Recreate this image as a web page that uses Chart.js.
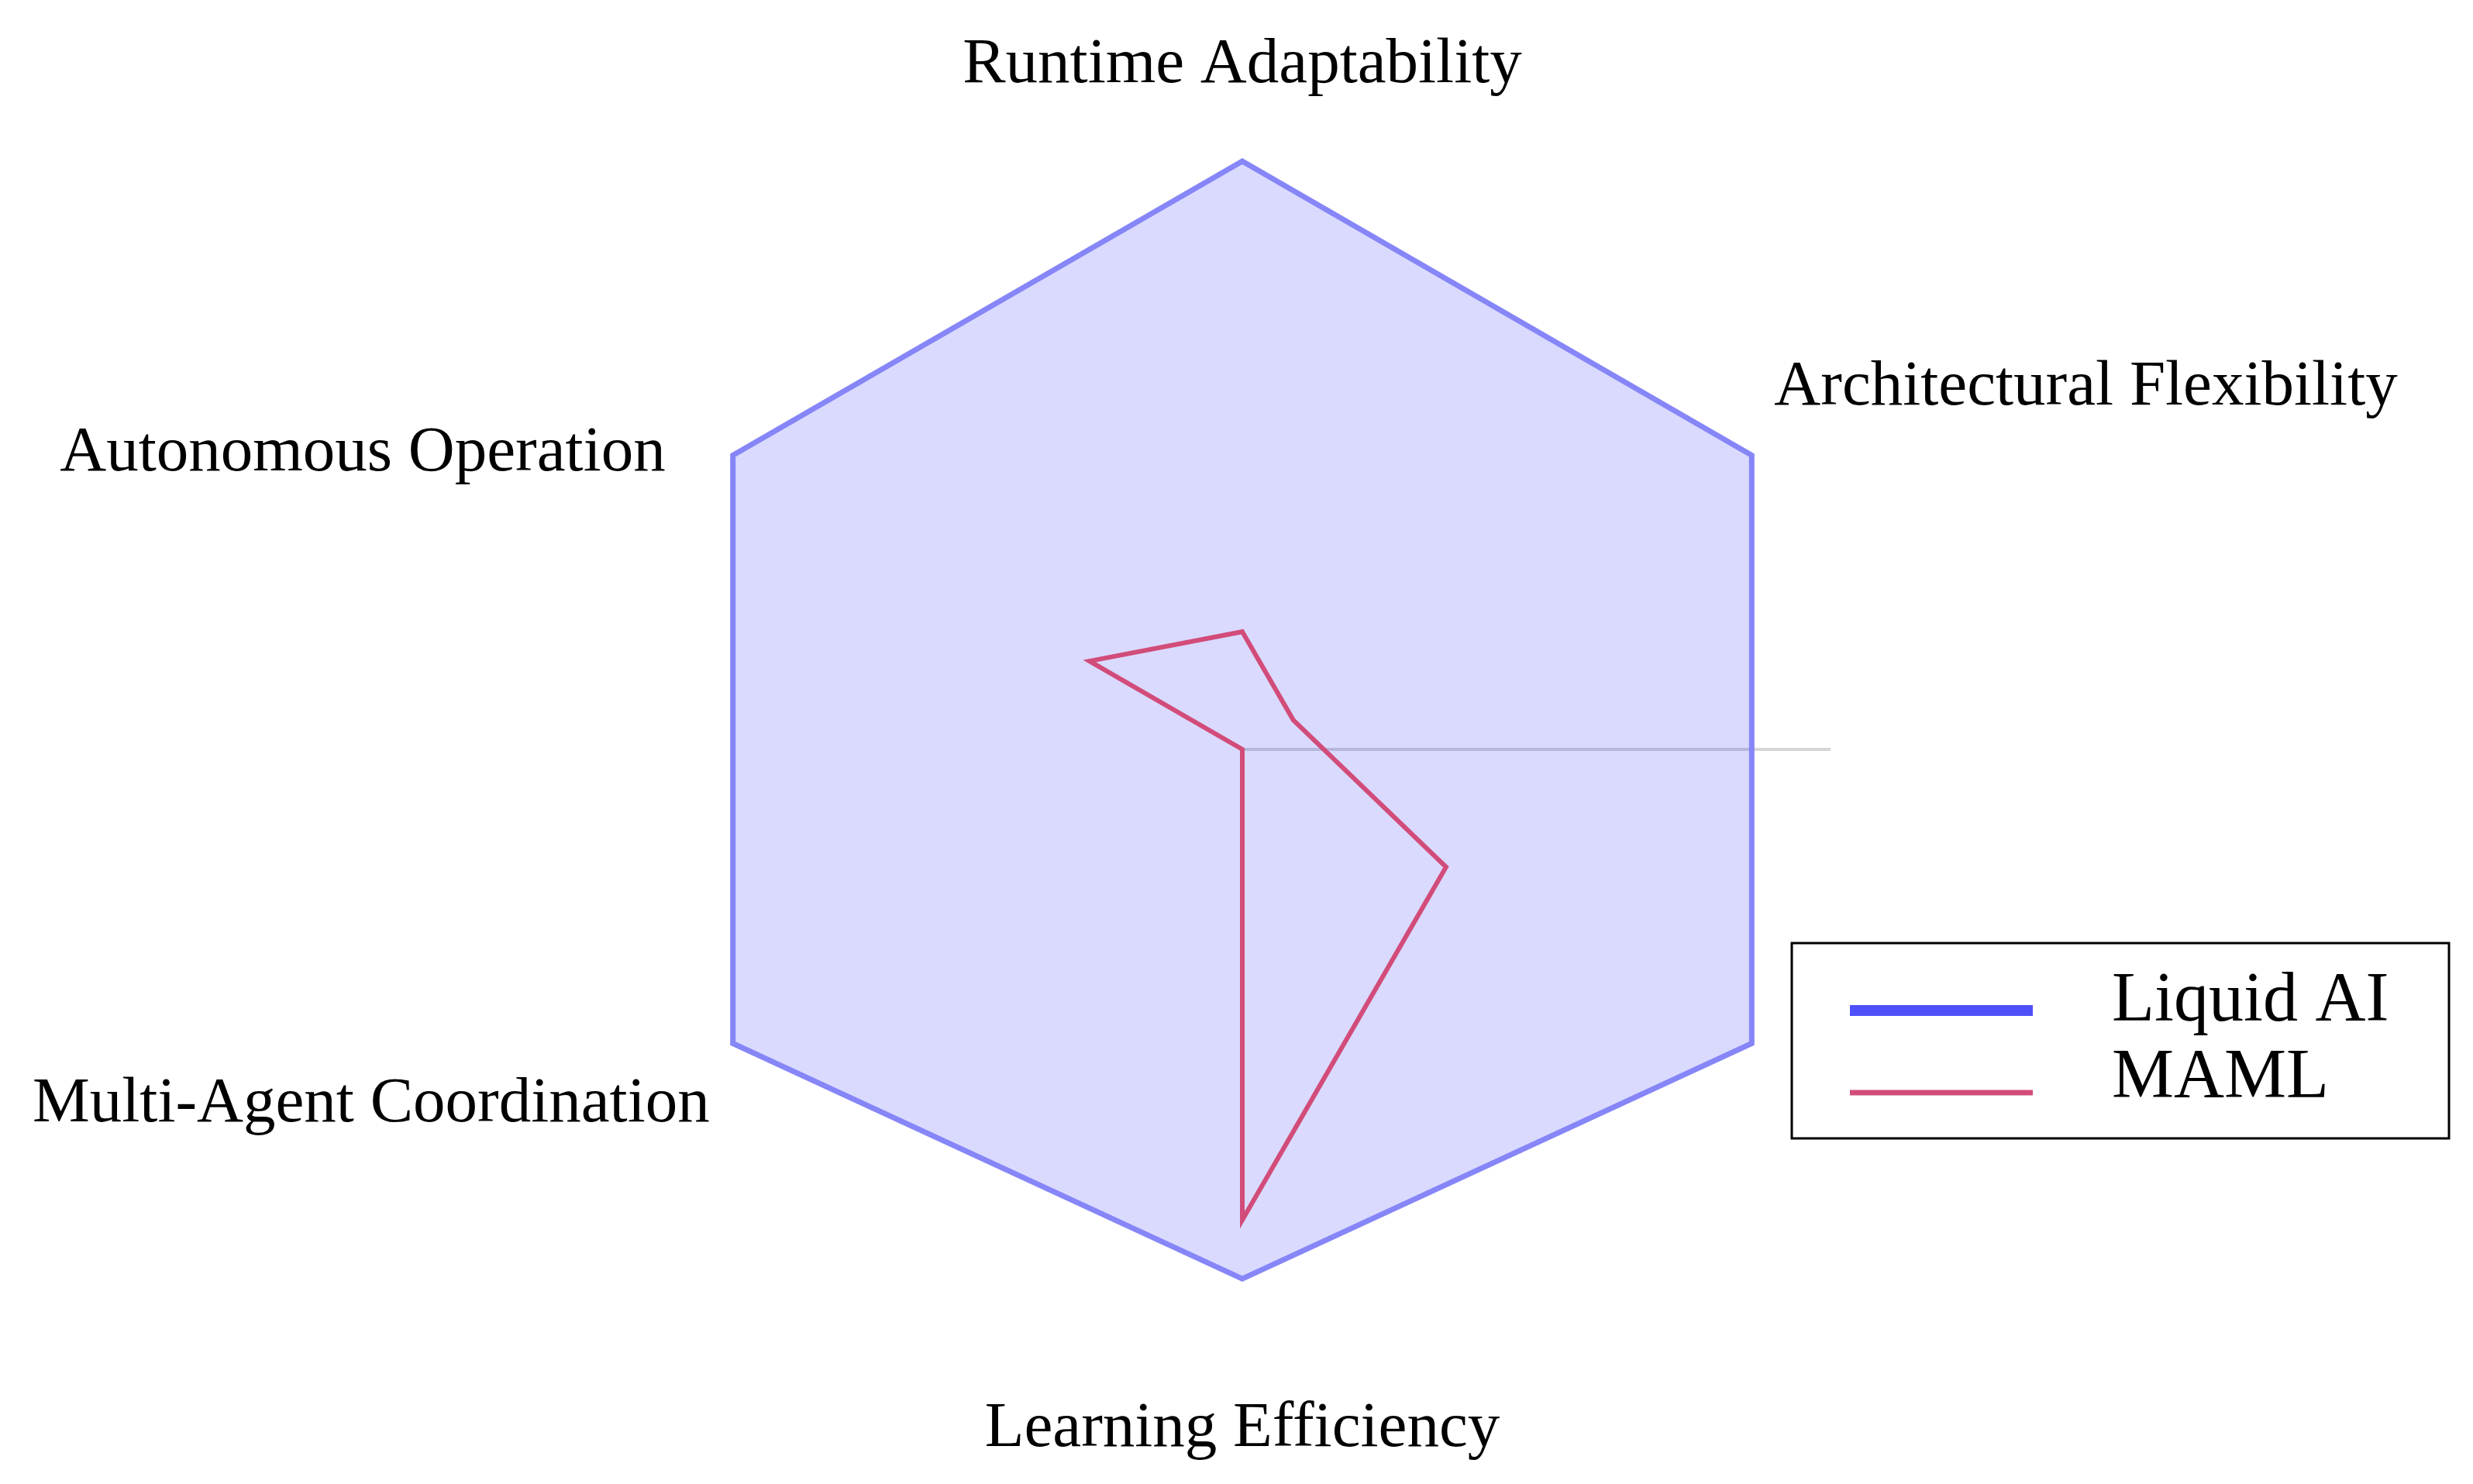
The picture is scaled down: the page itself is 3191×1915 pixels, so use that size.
<!DOCTYPE html>
<html>
<head>
<meta charset="utf-8">
<script src="https://cdn.jsdelivr.net/npm/chart.js@4.4.1/dist/chart.umd.min.js"></script>
<style>
  html, body { margin: 0; padding: 0; background: #fff; }
  canvas { display: block; }
</style>
</head>
<body>
<canvas id="radar" width="3191" height="1915"></canvas>
<script>
const categories = [
  'Runtime Adaptability',
  'Architectural Flexibility',
  'Generalization',
  'Learning Efficiency',
  'Multi-Agent Coordination',
  'Autonomous Operation',
];
const liquidAI = [1.0, 1.0, 1.0, 0.9, 1.0, 1.0];
const maml = [0.2, 0.1, 0.4, 0.8, 0.0, 0.3];
const seriesNames = ['Liquid AI', 'MAML'];
const axisRange = [0, 1];

const FONT = '"Liberation Serif", "Times New Roman", serif';

// where each category label sits relative to its outer vertex
const labelOffsets = [
  [0, -102, 'center'],
  [29, -66, 'left'],
  [90, 50, 'left'],
  [0, 140, 'center'],
  [-30, 100, 'right'],
  [-87, 19, 'right'],
];

// faint radial axis line pointing east, drawn under the fills
const radialLine = {
  id: 'radialLine',
  beforeDatasetsDraw(chart) {
    const r = chart.scales.r;
    const ctx = chart.ctx;
    ctx.save();
    ctx.strokeStyle = '#d6d6d6';
    ctx.lineWidth = 4;
    ctx.beginPath();
    ctx.moveTo(r.xCenter, r.yCenter);
    ctx.lineTo(r.xCenter + r.getDistanceFromCenterForValue(axisRange[1]), r.yCenter);
    ctx.stroke();
    ctx.restore();
  },
};

const axisLabels = {
  id: 'axisLabels',
  afterDatasetsDraw(chart) {
    const r = chart.scales.r;
    const ctx = chart.ctx;
    ctx.save();
    ctx.fillStyle = '#000';
    ctx.font = '83px ' + FONT;
    ctx.textBaseline = 'alphabetic';
    categories.forEach((name, i) => {
      const p = r.getPointPosition(i, r.getDistanceFromCenterForValue(axisRange[1]));
      const [dx, dy, align] = labelOffsets[i];
      ctx.textAlign = align;
      ctx.fillText(name, p.x + dx, p.y + dy);
    });
    ctx.restore();
  },
};

// boxed legend laid over the lower right corner
const boxLegend = {
  id: 'boxLegend',
  afterDraw(chart) {
    const ctx = chart.ctx;
    const box = { x: 2312, y: 1217, w: 848, h: 252 };
    ctx.save();
    ctx.fillStyle = '#fff';
    ctx.fillRect(box.x, box.y, box.w, box.h);
    ctx.strokeStyle = '#000';
    ctx.lineWidth = 3;
    ctx.strokeRect(box.x, box.y, box.w, box.h);

    const rows = [
      { color: '#5050fa', width: 14, lineY: 1304, textY: 1317 },
      { color: '#d24c7a', width: 7, lineY: 1410, textY: 1416 },
    ];
    ctx.font = '90px ' + FONT;
    ctx.textAlign = 'left';
    ctx.textBaseline = 'alphabetic';
    rows.forEach((row, i) => {
      ctx.strokeStyle = row.color;
      ctx.lineWidth = row.width;
      ctx.beginPath();
      ctx.moveTo(2387, row.lineY);
      ctx.lineTo(2623, row.lineY);
      ctx.stroke();
      ctx.fillStyle = '#000';
      ctx.fillText(chart.data.datasets[i].label, 2725, row.textY);
    });
    ctx.restore();
  },
};

new Chart(document.getElementById('radar'), {
  type: 'radar',
  data: {
    labels: categories,
    datasets: [
      {
        label: seriesNames[0],
        data: liquidAI,
        fill: true,
        backgroundColor: 'rgba(0, 0, 255, 0.145)',
        borderColor: '#8686f8',
        borderWidth: 7,
        borderJoinStyle: 'miter',
        pointRadius: 0,
        tension: 0,
        order: 2,
      },
      {
        label: seriesNames[1],
        data: maml,
        fill: false,
        borderColor: '#d24c7a',
        borderWidth: 6,
        borderJoinStyle: 'miter',
        pointRadius: 0,
        tension: 0,
        order: 1,
      },
    ],
  },
  options: {
    responsive: false,
    devicePixelRatio: 1,
    animation: false,
    layout: { padding: { left: 844, right: 829, top: 208, bottom: 189 } },
    plugins: {
      legend: { display: false },
      tooltip: { enabled: false },
    },
    scales: {
      r: {
        min: axisRange[0],
        max: axisRange[1],
        ticks: { display: false },
        grid: { display: false },
        angleLines: { display: false },
        pointLabels: { display: false },
      },
    },
  },
  plugins: [radialLine, axisLabels, boxLegend],
});
</script>
</body>
</html>
